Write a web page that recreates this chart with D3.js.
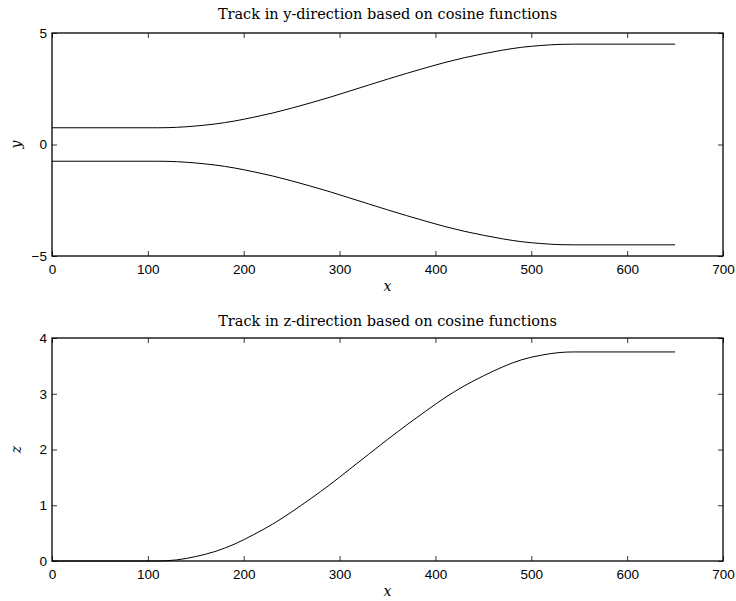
<!DOCTYPE html>
<html>
<head>
<meta charset="utf-8">
<script src="https://cdn.jsdelivr.net/npm/d3@7"></script>
<style>
  body { margin: 0; background: #fff; }
  svg { display: block; }
  .tick text { font-family: "Liberation Sans", Arial, sans-serif; font-size: 13.5px; fill: #000; }
  .title { font-family: "DejaVu Serif", serif; font-size: 14.5px; }
  .axlabel { font-family: "DejaVu Serif", serif; font-style: italic; font-size: 14px; }
</style>
</head>
<body>
<svg id="chart"></svg>
<script>
// track samples
const xs = [0, 110, 130, 150, 170, 190, 210, 230, 250, 270, 290, 310, 330, 350, 370, 390, 410, 430, 450, 470, 490, 510, 530, 545, 650];
const yUpper = [0.75, 0.75, 0.77, 0.83, 0.92, 1.05, 1.22, 1.41, 1.63, 1.87, 2.12, 2.39, 2.66, 2.93, 3.19, 3.44, 3.68, 3.89, 4.07, 4.23, 4.36, 4.44, 4.49, 4.50, 4.50];
const yLower = [-0.75, -0.75, -0.77, -0.83, -0.92, -1.05, -1.22, -1.41, -1.63, -1.87, -2.12, -2.39, -2.66, -2.93, -3.19, -3.44, -3.68, -3.89, -4.07, -4.23, -4.36, -4.44, -4.49, -4.50, -4.50];
const zTrack = [0, 0, 0.02, 0.08, 0.17, 0.30, 0.47, 0.66, 0.88, 1.12, 1.37, 1.64, 1.91, 2.18, 2.44, 2.69, 2.93, 3.14, 3.32, 3.48, 3.61, 3.69, 3.74, 3.75, 3.75];

const xTicks = [0, 100, 200, 300, 400, 500, 600, 700];
const yTicks = [-5, 0, 5];
const zTicks = [0, 1, 2, 3, 4];

const width = 736, height = 601;
const svg = d3.select('#chart').attr('width', width).attr('height', height);

const left = 52, right = 723;

const panels = [
    {
        top: 33, bottom: 256, titleGap: 14,
        title: 'Track in y-direction based on cosine functions',
        ylabel: 'y', ydomain: [-5, 5], yticks: yTicks,
        series: [yUpper, yLower]
    },
    {
        top: 338, bottom: 561, titleGap: 12,
        title: 'Track in z-direction based on cosine functions',
        ylabel: 'z', ydomain: [0, 4], yticks: zTicks,
        series: [zTrack]
    }
];

panels.forEach(p => {
    const xScale = d3.scaleLinear().domain([0, 700]).range([left, right]);
    const yScale = d3.scaleLinear().domain(p.ydomain).range([p.bottom, p.top]);
    const g = svg.append('g');

    // bottom + left with labels, top + right bare, ticks pointing inward
    g.append('g')
        .attr('transform', `translate(0,${p.bottom})`)
        .call(d3.axisBottom(xScale).tickValues(xTicks).tickSizeInner(-5).tickSizeOuter(0).tickPadding(8));
    g.append('g')
        .attr('transform', `translate(0,${p.top})`)
        .call(d3.axisTop(xScale).tickValues(xTicks).tickSizeInner(-5).tickSizeOuter(0).tickFormat(''));
    g.append('g')
        .attr('transform', `translate(${left},0)`)
        .call(d3.axisLeft(yScale).tickValues(p.yticks).tickSizeInner(-5).tickSizeOuter(0).tickPadding(5)
            .tickFormat(d => d < 0 ? '\u2212' + Math.abs(d) : d));
    g.append('g')
        .attr('transform', `translate(${right},0)`)
        .call(d3.axisRight(yScale).tickValues(p.yticks).tickSizeInner(-5).tickSizeOuter(0).tickFormat(''));

    g.selectAll('.domain').remove();
    g.selectAll('.tick line').attr('stroke', '#000').attr('stroke-width', 0.8);

    g.append('rect')
        .attr('x', left).attr('y', p.top)
        .attr('width', right - left).attr('height', p.bottom - p.top)
        .attr('fill', 'none').attr('stroke', '#000').attr('stroke-width', 1.3);

    const line = d3.line()
        .x((d, i) => xScale(xs[i]))
        .y(d => yScale(d))
        .curve(d3.curveMonotoneX);

    p.series.forEach(s => {
        g.append('path')
            .datum(s)
            .attr('fill', 'none')
            .attr('stroke', '#000')
            .attr('stroke-width', 1)
            .attr('d', line);
    });

    g.append('text')
        .attr('class', 'title')
        .attr('x', (left + right) / 2)
        .attr('y', p.top - p.titleGap)
        .attr('text-anchor', 'middle')
        .text(p.title);

    g.append('text')
        .attr('class', 'axlabel')
        .attr('x', (left + right) / 2)
        .attr('y', p.bottom + 35)
        .attr('text-anchor', 'middle')
        .text('x');

    g.append('text')
        .attr('class', 'axlabel')
        .attr('transform', `translate(21,${(p.top + p.bottom) / 2}) rotate(-90)`)
        .attr('text-anchor', 'middle')
        .text(p.ylabel);
});
</script>
</body>
</html>
